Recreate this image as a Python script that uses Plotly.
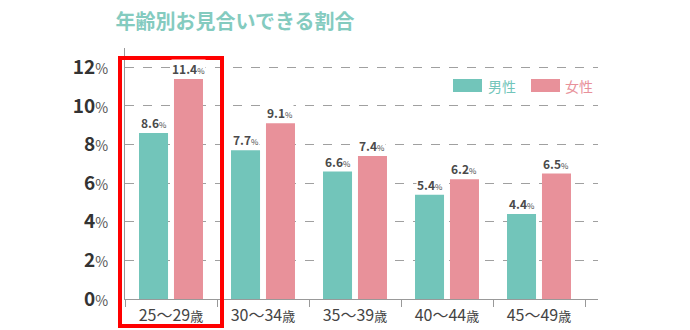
import plotly.graph_objects as go

# Age groups and the share (%) of people who got an arranged meeting
age_groups = ["25〜29", "30〜34", "35〜39", "40〜44", "45〜49"]
male_pct = [8.6, 7.7, 6.6, 5.4, 4.4]
female_pct = [11.4, 9.1, 7.4, 6.2, 6.5]
series_names = ["男性", "女性"]
series_colors = ["#72C5BA", "#E8919A"]
y_ticks = [0, 2, 4, 6, 8, 10, 12]

FONT = "Noto Sans CJK JP"
W, H = 690, 330
ML, MR, MT, MB = 125, 92, 48, 31
PW, PH = W - ML - MR, H - MT - MB
CAT_PX = 92            # width of one category slot in pixels
BARGAP, GROUPGAP = 0.24, 0.17
SLOT_PX = CAT_PX * (1 - BARGAP) / 2


def px_x(px):
    return (px - ML) / PW


def px_y(py):
    return (H - MB - py) / PH


def pct_label(v):
    return f"<b>{v:.1f}</b><span style='font-size:8px'>%</span>"


fig = go.Figure()
series_vals = [male_pct, female_pct]
for i, (name, vals, color) in enumerate(zip(series_names, series_vals, series_colors)):
    fig.add_trace(go.Bar(
        x=age_groups, y=vals, name=name,
        marker=dict(color=color, line=dict(width=0)),
        showlegend=False,
    ))
    # value labels with a white backing so the dashed grid stays behind them
    shift = (i - 0.5) * SLOT_PX
    for g, v in zip(age_groups, vals):
        fig.add_annotation(
            x=g, y=v, xref="x", yref="y", xshift=shift, yshift=1,
            text=pct_label(v), showarrow=False,
            xanchor="center", yanchor="bottom",
            bgcolor="white", borderpad=0,
            font=dict(family=FONT, size=12, color="#4a4a4a"),
        )

fig.update_layout(
    width=W, height=H,
    margin=dict(l=ML, r=MR, t=MT, b=MB, autoexpand=False),
    paper_bgcolor="white", plot_bgcolor="white",
    barmode="group", bargap=BARGAP, bargroupgap=GROUPGAP,
    font=dict(family=FONT),
    title=dict(
        text="<b>年齢別お見合いできる割合</b>",
        font=dict(family=FONT, size=20, color="#84CBBF"),
        x=235 / W, xanchor="center", y=1 - 22 / H, yanchor="middle",
    ),
)

fig.update_xaxes(
    type="category",
    range=[-0.5, 4.5 + 13 / CAT_PX],
    tickvals=age_groups,
    ticktext=[f"{g}<span style='font-size:13px'>歳</span>" for g in age_groups],
    tickson="boundaries",
    ticks="outside", ticklen=7, tickcolor="#999999", tickwidth=1,
    tickfont=dict(family=FONT, size=16, color="#444444"),
    ticklabelstandoff=2,
    automargin=False,
    showline=True, linecolor="#999999", linewidth=1,
    showgrid=False, zeroline=False,
)

fig.update_yaxes(
    range=[0, 13],
    tickvals=y_ticks,
    ticktext=[f"<b>{t}</b><span style='font-size:14px;color:#555555'>%</span>" for t in y_ticks],
    tickfont=dict(family=FONT, size=19, color="#333333"),
    ticks="", ticklabelstandoff=12,
    automargin=False,
    showline=True, linecolor="#999999", linewidth=1,
    showgrid=True, gridcolor="#a0a0a0", griddash="dash", gridwidth=1,
    zeroline=False,
)

# Legend: colored swatches with series-colored labels
legend_x = [(453, 486), (531, 563)]
for (sx, tx), name, color in zip(legend_x, series_names, series_colors):
    fig.add_shape(type="rect", xref="paper", yref="paper",
                  x0=px_x(sx), x1=px_x(sx + 29), y0=px_y(92), y1=px_y(79),
                  fillcolor=color, line=dict(width=0))
    fig.add_annotation(xref="paper", yref="paper", x=px_x(tx), y=px_y(85.5),
                       xanchor="left", yanchor="middle", showarrow=False,
                       text=name, font=dict(family=FONT, size=14, color=color))

# Highlight box around the youngest age group
fig.add_shape(type="rect", xref="paper", yref="paper",
              x0=px_x(120), x1=px_x(222), y0=px_y(326), y1=px_y(58),
              line=dict(color="#FF0000", width=4), fillcolor="rgba(0,0,0,0)")

fig.write_html("out.html")
